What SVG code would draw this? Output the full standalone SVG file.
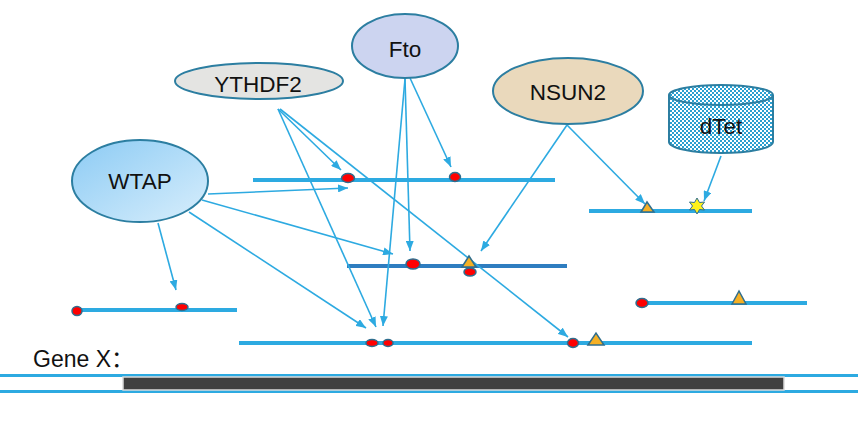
<svg xmlns="http://www.w3.org/2000/svg" width="858" height="436" viewBox="0 0 858 436">
<defs>
<style>
.track{stroke:#2DAAE1;stroke-width:4;fill:none}
.conn{stroke:#2DAAE1;stroke-width:1.6;fill:none;marker-end:url(#ah)}
.node{stroke:#2C7EA1;stroke-width:2}
.lbl{font-family:"Liberation Sans",Arial,sans-serif;font-size:22.5px;fill:#111;text-anchor:middle}
.dot{fill:#FF0000;stroke:#2F6E8E;stroke-width:1.5}
.tri{fill:#F5B025;stroke:#2F6E8E;stroke-width:1.5}
</style>
<marker id="ah" markerWidth="11" markerHeight="8" refX="10" refY="4" orient="auto" markerUnits="userSpaceOnUse">
<path d="M0,0 L10,4 L0,8 Z" fill="#2DAAE1"/>
</marker>
<linearGradient id="wtapG" x1="0" y1="0" x2="1" y2="1">
<stop offset="0" stop-color="#8CCBF4"/>
<stop offset="1" stop-color="#D8EEFC"/>
</linearGradient>
<pattern id="chk" width="4" height="4" patternUnits="userSpaceOnUse">
<rect width="4" height="4" fill="#ffffff"/>
<rect width="2" height="2" fill="#2A9FD0"/>
<rect x="2" y="2" width="2" height="2" fill="#2A9FD0"/>
</pattern>
</defs>
<rect width="858" height="436" fill="#ffffff"/>

<g id="tracks">
<line class="track" x1="253" y1="180" x2="555" y2="180"/>
<line class="track" x1="589" y1="211" x2="752" y2="211"/>
<line class="track" x1="347" y1="266" x2="567" y2="266" style="stroke:#2E7DC0"/>
<line class="track" x1="76" y1="310" x2="237" y2="310"/>
<line class="track" x1="640" y1="303" x2="807" y2="303"/>
<line class="track" x1="239" y1="343" x2="752" y2="343"/>
</g>

<g id="connectors">
<line class="conn" x1="278" y1="109" x2="341" y2="170"/>
<line class="conn" x1="278" y1="109" x2="376" y2="327"/>
<line class="conn" x1="280" y1="109" x2="568" y2="337"/>
<line class="conn" x1="410" y1="78" x2="451" y2="167"/>
<line class="conn" x1="405" y1="79" x2="410" y2="251"/>
<line class="conn" x1="405" y1="79" x2="383" y2="326"/>
<line class="conn" x1="567" y1="125" x2="481" y2="251"/>
<line class="conn" x1="567" y1="125" x2="645" y2="204"/>
<line class="conn" x1="721" y1="156" x2="704" y2="201"/>
<line class="conn" x1="208" y1="194" x2="348" y2="188"/>
<line class="conn" x1="202" y1="200" x2="393" y2="254"/>
<line class="conn" x1="189" y1="212" x2="366" y2="328"/>
<line class="conn" x1="158" y1="223" x2="176" y2="290"/>
</g>

<g id="sites">
<ellipse class="dot" cx="348" cy="178" rx="6.5" ry="4.5"/>
<ellipse class="dot" cx="455" cy="177" rx="5.5" ry="4.5"/>
<polygon class="tri" points="641,212 647,202 654,212"/>
<polygon points="697,198 699.5,202.5 704.5,202 701.5,206 704.5,210 699.5,209.5 697,214 694.5,209.5 689.5,210 692.5,206 689.5,202 694.5,202.5" fill="#FFF21A" stroke="#2F6E8E" stroke-width="1"/>
<ellipse class="dot" cx="413" cy="264" rx="7" ry="5"/>
<polygon class="tri" points="462,267 469,256 476,267"/>
<ellipse class="dot" cx="470" cy="272" rx="6" ry="4"/>
<ellipse class="dot" cx="77" cy="311" rx="5" ry="4.5"/>
<ellipse class="dot" cx="182" cy="307" rx="6" ry="3.5"/>
<ellipse class="dot" cx="642" cy="303" rx="6" ry="4.5"/>
<polygon class="tri" points="732,304 739,291 746,304"/>
<ellipse class="dot" cx="372" cy="343" rx="6" ry="3.5"/>
<ellipse class="dot" cx="388" cy="343" rx="5" ry="3.5"/>
<ellipse class="dot" cx="573" cy="343" rx="5.5" ry="4.5"/>
<polygon class="tri" points="588,345 596,333 604,345"/>
</g>

<g id="YTHDF2">
<ellipse class="node" cx="259" cy="81" rx="84" ry="18" fill="#E4E4E2"/>
<text class="lbl" x="258" y="92">YTHDF2</text>
</g>
<g id="Fto">
<ellipse class="node" cx="405" cy="46" rx="53" ry="32" fill="#CCD4F0"/>
<text class="lbl" x="405" y="57">Fto</text>
</g>
<g id="NSUN2">
<ellipse class="node" cx="568" cy="91" rx="75" ry="33" fill="#EAD9BC"/>
<text class="lbl" x="568" y="100">NSUN2</text>
</g>
<g id="dTet">
<path class="node" d="M669,95 L669,142 A52,11 0 0 0 773,142 L773,95" fill="url(#chk)"/>
<ellipse class="node" cx="721" cy="95" rx="52" ry="10" fill="url(#chk)"/>
<text class="lbl" x="721" y="134">dTet</text>
</g>
<g id="WTAP">
<ellipse class="node" cx="140" cy="181" rx="68" ry="41" fill="url(#wtapG)"/>
<text class="lbl" x="140" y="189">WTAP</text>
</g>

<g id="geneX">
<text x="33" y="367" style="font-family:'Liberation Sans','Noto Sans CJK SC',sans-serif;font-size:23px;fill:#111">Gene X：</text>
<line x1="0" y1="375.5" x2="858" y2="375.5" stroke="#2DAAE1" stroke-width="3"/>
<line x1="0" y1="391.5" x2="858" y2="391.5" stroke="#2DAAE1" stroke-width="3"/>
<rect x="123" y="377" width="661" height="13" fill="#404040" stroke="#DADADA" stroke-width="1.5"/>
</g>
</svg>
